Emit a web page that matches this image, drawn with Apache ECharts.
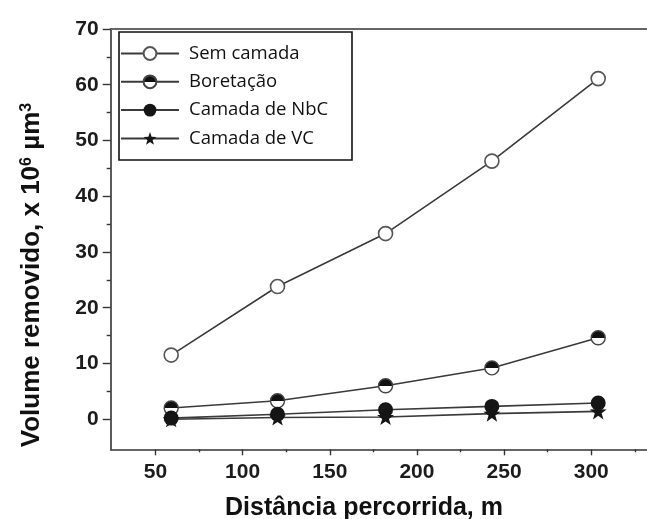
<!DOCTYPE html>
<html>
<head>
<meta charset="utf-8">
<script src="https://cdn.jsdelivr.net/npm/echarts@6/dist/echarts.min.js"></script>
<style>
html, body { margin: 0; padding: 0; background: #fff; }
#main { width: 647px; height: 519px; }
</style>
</head>
<body>
<div id="main"></div>
<script>
// distancia percorrida (m) de cada ponto medido
var distList = [59, 120, 182, 243, 304];
// volume removido, x 10^6 um^3
var semCamada = [11.5, 23.8, 33.3, 46.3, 61.1];
var boretacao = [2.0, 3.3, 6.0, 9.2, 14.6];
var camadaNbC = [0.2, 0.9, 1.7, 2.3, 2.9];
var camadaVC = [0.0, 0.3, 0.4, 1.0, 1.4];
var seriesNames = ['Sem camada', 'Boretação', 'Camada de NbC', 'Camada de VC'];

var yTicks = [0, 10, 20, 30, 40, 50, 60, 70];
var yMinorTicks = [5, 15, 25, 35, 45, 55, 65];
var xTicks = [50, 100, 150, 200, 250, 300];
var xMinorTicks = [75, 125, 175, 225, 275, 325];

function pares(vals) {
    var out = [];
    for (var i = 0; i < distList.length; i++) {
        out.push([distList[i], vals[i]]);
    }
    return out;
}

var myChart = echarts.init(document.getElementById('main'));

var axisColor = '#333';
var lineColor = '#3a3a3a';
var tickFont = { fontSize: 21, fontWeight: 'bold', fontFamily: 'Liberation Sans', color: '#1c1c1c' };
var starPath = 'path://M10,0 L12.35,6.76 L19.51,6.91 L13.8,11.24 L15.88,18.09 L10,14 L4.12,18.09 L6.2,11.24 L0.49,6.91 L7.65,6.76 Z';
var xMin = 24.3, xMax = 332, yMin = -5.4, yMax = 70;

var option = {
    animation: false,
    grid: { left: 110.7, right: 0, top: 29, bottom: 69.7, outerBoundsMode: 'none' },
    xAxis: [{
        type: 'value', min: xMin, max: xMax, position: 'bottom',
        axisLine: { onZero: false, lineStyle: { color: axisColor, width: 1.6 } },
        axisTick: { customValues: xTicks, length: 6, lineStyle: { color: axisColor, width: 1.4 } },
        axisLabel: Object.assign({ customValues: xTicks, margin: 12 }, tickFont),
        splitLine: { show: false }
    }, {
        // ticks menores
        type: 'value', min: xMin, max: xMax, position: 'bottom',
        axisLine: { show: false, onZero: false },
        axisTick: { customValues: xMinorTicks, length: 3, lineStyle: { color: axisColor, width: 1.4 } },
        axisLabel: { show: false },
        splitLine: { show: false }
    }, {
        // linha de cima
        type: 'value', min: xMin, max: xMax, position: 'top',
        axisLine: { onZero: false, lineStyle: { color: '#666', width: 2 } },
        axisTick: { show: false },
        axisLabel: { show: false },
        splitLine: { show: false }
    }],
    yAxis: [{
        type: 'value', min: yMin, max: yMax, position: 'left',
        axisLine: { onZero: false, lineStyle: { color: axisColor, width: 1.6 } },
        axisTick: { customValues: yTicks, length: 8, lineStyle: { color: axisColor, width: 1.4 } },
        axisLabel: Object.assign({ customValues: yTicks, margin: 12 }, tickFont),
        splitLine: { show: false }
    }, {
        type: 'value', min: yMin, max: yMax, position: 'left',
        axisLine: { show: false, onZero: false },
        axisTick: { customValues: yMinorTicks, length: 4, lineStyle: { color: axisColor, width: 1.4 } },
        axisLabel: { show: false },
        splitLine: { show: false }
    }],
    legend: {
        data: seriesNames,
        orient: 'vertical',
        left: 119, top: 32,
        padding: [12, 10, 10, 1],
        itemWidth: 58, itemHeight: 16, itemGap: 9.3,
        z: 20,
        textStyle: { fontSize: 18.5, fontFamily: 'Open Sans', color: '#111', lineHeight: 18, padding: [0, 0, 0, 5] }
    },
    graphic: [{
        type: 'rect', z: 0,
        shape: { x: 119, y: 32, width: 233, height: 128 },
        style: { fill: '#fff', stroke: '#111', lineWidth: 1.6 }
    }, {
        type: 'text', x: 32, y: 275, rotation: Math.PI / 2,
        style: {
            text: 'Volume removido, x 10{sup|6} µm{sup|3}',
            fontSize: 26, fontWeight: 'bold', fontFamily: 'Liberation Sans', fill: '#111',
            align: 'center', verticalAlign: 'middle',
            rich: { sup: { fontSize: 16, fontWeight: 'bold', fontFamily: 'Liberation Sans', verticalAlign: 'top' } }
        }
    }, {
        type: 'text', x: 364, y: 508,
        style: {
            text: 'Distância percorrida, m',
            fontSize: 25, fontWeight: 'bold', fontFamily: 'Liberation Sans', fill: '#111',
            align: 'center', verticalAlign: 'middle'
        }
    }],
    series: [{
        name: seriesNames[0], type: 'line', data: pares(semCamada),
        symbol: 'circle', symbolSize: 14,
        itemStyle: { color: '#fff', borderColor: '#555', borderWidth: 1.6 },
        lineStyle: { color: lineColor, width: 1.6 }
    }, {
        name: seriesNames[1], type: 'line', data: pares(boretacao),
        symbol: 'circle', symbolSize: 14,
        itemStyle: {
            color: { type: 'linear', x: 0, y: 0, x2: 0, y2: 1, colorStops: [
                { offset: 0, color: '#111' }, { offset: 0.5, color: '#111' },
                { offset: 0.5, color: '#fff' }, { offset: 1, color: '#fff' }] },
            borderColor: '#444', borderWidth: 1.4
        },
        lineStyle: { color: lineColor, width: 1.6 }
    }, {
        name: seriesNames[2], type: 'line', data: pares(camadaNbC),
        symbol: 'circle', symbolSize: 15,
        itemStyle: { color: '#151515' },
        lineStyle: { color: lineColor, width: 1.6 }
    }, {
        name: seriesNames[3], type: 'line', data: pares(camadaVC),
        symbol: starPath, symbolSize: 17, symbolKeepAspect: true,
        itemStyle: { color: '#151515' },
        lineStyle: { color: lineColor, width: 1.6 }
    }]
};

myChart.setOption(option);
</script>
</body>
</html>
